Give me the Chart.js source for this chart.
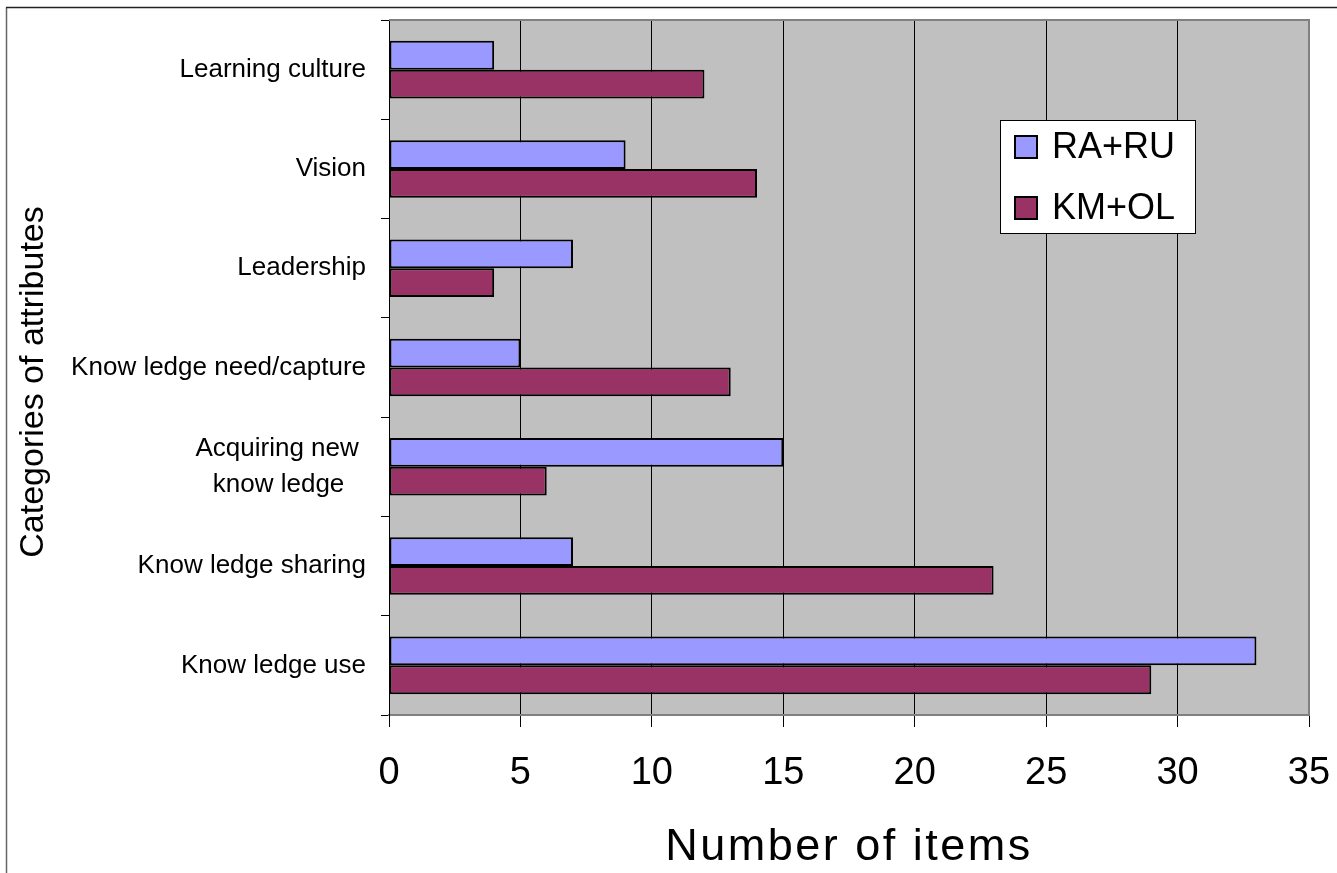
<!DOCTYPE html>
<html>
<head>
<meta charset="utf-8">
<script src="https://cdn.jsdelivr.net/npm/chart.js@4.4.1/dist/chart.umd.min.js"></script>
<style>
  html, body { margin: 0; padding: 0; background: #fff; }
  #wrap { width: 1337px; height: 873px; }
</style>
</head>
<body>
<div id="wrap"><canvas id="chart"></canvas></div>
<script>
// data
const categories = [
    'Learning culture',
    'Vision',
    'Leadership',
    'Know ledge need/capture',
    ['Acquiring new ', 'know ledge   '],
    'Know ledge sharing',
    'Know ledge use'
];
const raRu = [4, 9, 7, 5, 15, 7, 33];
const kmOl = [12, 14, 4, 13, 6, 23, 29];
const xTickLabels = ['0', '5', '10', '15', '20', '25', '30', '35'];

const FONT = '"Liberation Sans", Arial, sans-serif';

// gray plot area, outer frame, plot border
const backdrop = {
    id: 'backdrop',
    beforeDraw(chart) {
        const { ctx, chartArea: a } = chart;
        ctx.save();
        ctx.fillStyle = '#fff';
        ctx.fillRect(0, 0, chart.width, chart.height);
        ctx.lineWidth = 1.5;
        ctx.strokeStyle = '#666';
        ctx.beginPath();
        ctx.moveTo(6.5, chart.height);
        ctx.lineTo(6.5, 7.5);
        ctx.stroke();
        ctx.strokeStyle = '#222';
        ctx.beginPath();
        ctx.moveTo(6, 7.5);
        ctx.lineTo(chart.width, 7.5);
        ctx.stroke();
        ctx.fillStyle = '#C0C0C0';
        ctx.fillRect(a.left, a.top, a.right - a.left, a.bottom - a.top);
        ctx.restore();
    },
    beforeDatasetsDraw(chart) {
        // gray frame of the plot, top and right
        const { ctx, chartArea: a } = chart;
        ctx.save();
        ctx.strokeStyle = '#808080';
        ctx.lineWidth = 2;
        ctx.beginPath();
        ctx.moveTo(a.left, a.top);
        ctx.lineTo(a.right, a.top);
        ctx.lineTo(a.right, a.bottom);
        ctx.stroke();
        ctx.restore();
    }
};

// legend box + axis titles
const extras = {
    id: 'extras',
    afterDraw(chart) {
        const { ctx, chartArea: a } = chart;
        ctx.save();
        // legend
        ctx.fillStyle = '#fff';
        ctx.strokeStyle = '#000';
        ctx.lineWidth = 1;
        ctx.fillRect(1000, 120, 195, 113);
        ctx.strokeRect(1000.5, 120.5, 195, 113);
        ctx.font = '36px ' + FONT;
        ctx.textBaseline = 'middle';
        chart.data.datasets.forEach((ds, i) => {
            const cy = 147 + i * 61;
            ctx.fillStyle = ds.backgroundColor;
            ctx.fillRect(1015, cy - 11, 22, 22);
            ctx.lineWidth = 2;
            ctx.strokeRect(1015, cy - 11, 22, 22);
            ctx.fillStyle = '#000';
            ctx.fillText(ds.label, 1052, cy + 1);
        });
        // x title
        ctx.fillStyle = '#000';
        ctx.font = '45px ' + FONT;
        ctx.letterSpacing = '2.5px';
        ctx.textAlign = 'center';
        ctx.textBaseline = 'alphabetic';
        ctx.fillText('Number of items', (a.left + a.right) / 2, 860);
        // y title
        ctx.letterSpacing = '0px';
        ctx.font = '34px ' + FONT;
        ctx.translate(43, 382);
        ctx.rotate(-Math.PI / 2);
        ctx.fillText('Categories of attributes', 0, 0);
        ctx.restore();
    }
};

new Chart(document.getElementById('chart'), {
    type: 'bar',
    data: {
        labels: categories,
        datasets: [
            {
                label: 'RA+RU',
                data: raRu,
                backgroundColor: '#9999FF',
                borderColor: '#000',
                borderWidth: 2,
                borderSkipped: false
            },
            {
                label: 'KM+OL',
                data: kmOl,
                backgroundColor: '#993366',
                borderColor: '#000',
                borderWidth: 2,
                borderSkipped: false
            }
        ]
    },
    options: {
        indexAxis: 'y',
        responsive: true,
        maintainAspectRatio: false,
        animation: false,
        datasets: { bar: { categoryPercentage: 0.58, barPercentage: 1 } },
        layout: { padding: { top: 20, right: 28, left: 0, bottom: 0 } },
        plugins: {
            legend: { display: false },
            tooltip: { enabled: false }
        },
        scales: {
            x: {
                min: 0,
                max: 35,
                ticks: {
                    stepSize: 5,
                    color: '#000',
                    padding: 24,
                    font: { family: FONT, size: 38 },
                    callback: (v, i) => xTickLabels[i]
                },
                grid: {
                    color: c => (c.tick && c.tick.value === 35 ? '#808080' : '#000'),
                    tickColor: '#000',
                    tickLength: 12,
                    lineWidth: 1
                },
                border: { color: '#808080', width: 2 },
                afterFit: s => { s.height = 158; s.paddingLeft = 0; s.paddingRight = 0; }
            },
            y: {
                ticks: {
                    color: '#000',
                    padding: 15,
                    font: { family: FONT, size: 26, lineHeight: 1.35 }
                },
                grid: {
                    offset: true,
                    drawOnChartArea: false,
                    color: '#000',
                    tickLength: 8
                },
                border: { color: '#000', width: 1 },
                afterFit: s => { s.width = 389; s.paddingTop = 0; s.paddingBottom = 0; }
            }
        }
    },
    plugins: [backdrop, extras]
});
</script>
</body>
</html>
